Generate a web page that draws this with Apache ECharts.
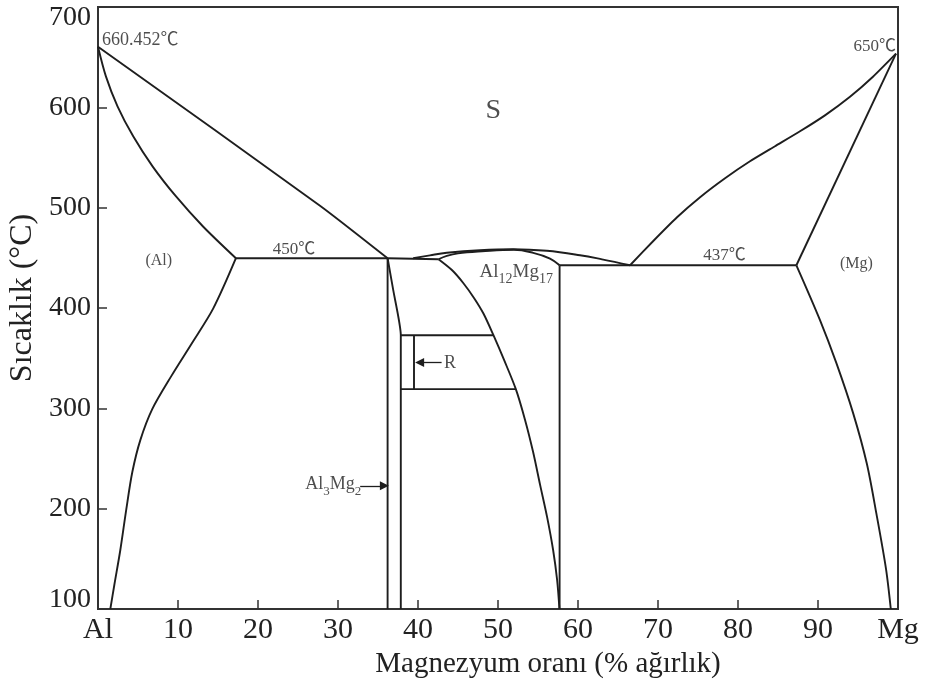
<!DOCTYPE html>
<html>
<head>
<meta charset="utf-8">
<script src="https://cdn.jsdelivr.net/npm/echarts@6/dist/echarts.min.js"></script>
<style>
    html, body { margin: 0; padding: 0; background: #fff; }
    #chart { width: 928px; height: 686px; }
</style>
</head>
<body>
<div id="chart"></div>
<script>
// Al-Mg faz diyagrami (x: % Mg, y: sicaklik)
var xTicks = [0, 10, 20, 30, 40, 50, 60, 70, 80, 90, 100];
var yTicks = [100, 200, 300, 400, 500, 600, 700];

// Al tarafi
var alLiquidus = [[0, 660.45], [27.75, 502], [36.2, 449.6]];
var alSolidus = [[0, 660.45], [0.99, 630.9], [2.44, 601], [4.4, 571.1], [6.82, 541.2], [9.73, 511.4], [13.1, 481.5], [17.24, 449.6]];
var alSolvus = [[17.24, 449.6], [14.41, 399.6], [11.66, 363.9], [9.16, 332.1], [6.78, 299.2], [5.29, 268.3], [4.29, 236.5], [3.54, 199.6], [2.79, 158.8], [2.04, 123.9], [1.54, 100]];
var eutecticLeft = [[17.24, 449.6], [36.2, 449.6]];

// Al3Mg2 ve R
var betaTop = [[36.2, 449.6], [42.56, 448.6]];
var betaLeft = [[36.2, 449.6], [36.2, 100]];
var betaRight = [[36.2, 449.6], [36.9, 418], [37.85, 373], [37.85, 100]];
var rTop = [[37.85, 372.9], [49.43, 372.9]];
var rBottom = [[37.85, 319.1], [52.23, 319.1]];
var rInner = [[39.5, 372.9], [39.5, 319.1]];

// Al12Mg17
var gammaLiquidus = [[39.4, 449.6], [41.5, 452.5], [43.6, 455], [47.75, 457.6], [51.9, 458.6], [56.1, 457], [60.25, 452.6], [63, 448.5], [66.5, 442.6]];
var gammaSolidus = [[42.56, 448.6], [43.6, 452], [45, 454.5], [48, 456.5], [52, 458], [54.4, 455], [56.5, 449.3], [57.7, 442.6]];
var gammaLeft = [[42.56, 448.6], [44.27, 437.6], [45.68, 424.7], [47.02, 409.8], [48.18, 394.5], [49.43, 372.9], [50.77, 348], [52.23, 319.1], [53.39, 288.2], [54.39, 256.4], [55.27, 223.5], [56.14, 191.6], [56.89, 158.8], [57.39, 128.9], [57.68, 100]];
var gammaRight = [[57.7, 442.6], [57.7, 100]];

// Mg tarafi
var eutecticRight = [[57.7, 442.6], [87.3, 442.6]];
var mgLiquidus = [[66.51, 442.6], [69.38, 466.5], [72.38, 490.4], [75.26, 510.4], [78.38, 529.3], [81.5, 546.2], [84.63, 561.2], [87.75, 576.1], [90.87, 592], [94, 610.5], [96.87, 630.5], [99.75, 653.5]];
var mgSolidus = [[99.75, 653.5], [87.3, 442.6]];
var mgSolvus = [[87.3, 442.6], [90.25, 388], [92.3, 345], [94.4, 295], [96.1, 245], [97.3, 195], [98.5, 140], [99.1, 100]];

var lineColor = '#1e1e1e';
var serif = '"Liberation Serif", "Times New Roman", serif';
var serifC = '"Liberation Serif", "Noto Sans CJK SC", serif';

function curve(data, smooth) {
    return {
        type: 'line',
        data: data,
        smooth: smooth || false,
        showSymbol: false,
        symbol: 'none',
        silent: true,
        lineStyle: { color: lineColor, width: 1.9 }
    };
}

// etiket: nokta + yazi
function note(at, text, pos, extra) {
    var lbl = {
        show: true,
        position: pos || 'inside',
        formatter: text,
        color: '#222',
        fontFamily: serifC,
        fontSize: 17
    };
    for (var k in extra) lbl[k] = extra[k];
    return {
        type: 'scatter',
        symbolSize: 0,
        silent: true,
        data: [at],
        label: lbl
    };
}

var chart = echarts.init(document.getElementById('chart'));

var series = [
    curve(alLiquidus, 0.2),
    curve(alSolidus, 0.3),
    curve(alSolvus, 0.3),
    curve(eutecticLeft),
    curve(betaTop),
    curve(betaLeft),
    curve(betaRight, 0.2),
    curve(rTop),
    curve(rBottom),
    curve(rInner),
    curve(gammaLiquidus, 0.4),
    curve(gammaSolidus, 0.4),
    curve(gammaLeft, 0.3),
    curve(gammaRight),
    curve(eutecticRight),
    curve(mgLiquidus, 0.2),
    curve(mgSolidus),
    curve(mgSolvus, 0.3)
];

// oklar
series.push({
    type: 'line',
    data: [],
    silent: true,
    markLine: {
        silent: true,
        symbol: ['none', 'triangle'],
        symbolSize: 9,
        label: { show: false },
        lineStyle: { type: 'solid', color: lineColor, width: 1.3 },
        data: [
            [{ coord: [32.77, 222.8] }, { coord: [35.8, 222.8] }],
            [{ coord: [42.95, 345.7] }, { coord: [40.2, 345.7] }]
        ]
    }
});

series.push(note([0, 660.45], '660.452℃', 'right', { distance: 4, offset: [0, -6], fontSize: 18 }));
series.push(note([99.75, 653.5], '650℃', 'left', { distance: 0, offset: [0, -7] }));
series.push(note([49.4, 597], 'S', 'inside', { fontSize: 28, fontFamily: serif }));
series.push(note([24.5, 458.6], '450℃', 'inside'));
series.push(note([78.3, 452.6], '437℃', 'inside'));
series.push(note([7.6, 446.8], '(Al)', 'inside', { fontSize: 16, fontFamily: serif }));
series.push(note([94.8, 443.6], '(Mg)', 'inside', { fontSize: 16, fontFamily: serif }));
series.push(note([44.0, 344.7], 'R', 'inside', { fontSize: 18, fontFamily: serif }));
series.push(note([47.7, 435.6], '{n|Al}{s|12}{n|Mg}{s|17}', 'right', {
    distance: 0,
    rich: {
        n: { fontSize: 19, fontFamily: serif, color: '#222', verticalAlign: 'middle' },
        s: { fontSize: 14, fontFamily: serif, color: '#222', verticalAlign: 'bottom', padding: [14, 0, 0, 0] }
    }
}));
series.push(note([25.9, 224.5], '{n|Al}{s|3}{n|Mg}{s|2}', 'right', {
    distance: 0,
    rich: {
        n: { fontSize: 18, fontFamily: serif, color: '#222', verticalAlign: 'middle' },
        s: { fontSize: 13, fontFamily: serif, color: '#222', verticalAlign: 'bottom', padding: [14, 0, 0, 0] }
    }
}));

var option = {
    animation: false,
    backgroundColor: '#fff',
    grid: {
        left: 98, right: 30, top: 7, bottom: 77,
        outerBoundsMode: 'none',
        containLabel: false,
        show: true,
        borderColor: '#333',
        borderWidth: 2
    },
    xAxis: {
        type: 'value',
        min: xTicks[0],
        max: xTicks[xTicks.length - 1],
        interval: 10,
        name: 'Magnezyum oranı (% ağırlık)',
        nameLocation: 'middle',
        nameGap: 37,
        nameTextStyle: { fontFamily: serif, fontSize: 29, color: '#222', padding: [0, 0, 0, 100] },
        axisLine: { lineStyle: { color: '#333', width: 2 } },
        axisTick: { inside: true, length: 9, lineStyle: { color: '#333', width: 1.5 } },
        axisLabel: {
            margin: 6,
            fontFamily: serif,
            fontSize: 30,
            color: '#222',
            showMinLabel: true,
            showMaxLabel: true,
            formatter: function (v) {
                if (v === 0) return 'Al';
                if (v === 100) return 'Mg';
                return v;
            }
        },
        splitLine: { show: false }
    },
    yAxis: {
        type: 'value',
        min: yTicks[0],
        max: yTicks[yTicks.length - 1],
        interval: 100,
        name: 'Sıcaklık (°C)',
        nameLocation: 'middle',
        nameGap: 47,
        nameTextStyle: { fontFamily: serif, fontSize: 32, color: '#222', padding: [0, 0, 0, 20] },
        axisLine: { lineStyle: { color: '#333', width: 2 } },
        axisTick: { inside: true, length: 9, lineStyle: { color: '#333', width: 1.5 } },
        axisLabel: {
            margin: 7,
            fontFamily: serif,
            fontSize: 28,
            color: '#222',
            showMinLabel: true,
            showMaxLabel: true,
            formatter: function (v) {
                if (v === 700) return '{t|700}';
                if (v === 100) return '{b|100}';
                return v;
            },
            rich: {
                t: { fontFamily: serif, fontSize: 28, color: '#222', padding: [22, 0, 0, 0] },
                b: { fontFamily: serif, fontSize: 28, color: '#222', padding: [0, 0, 18, 0] }
            }
        },
        splitLine: { show: false }
    },
    series: series
};

chart.setOption(option);
</script>
</body>
</html>
